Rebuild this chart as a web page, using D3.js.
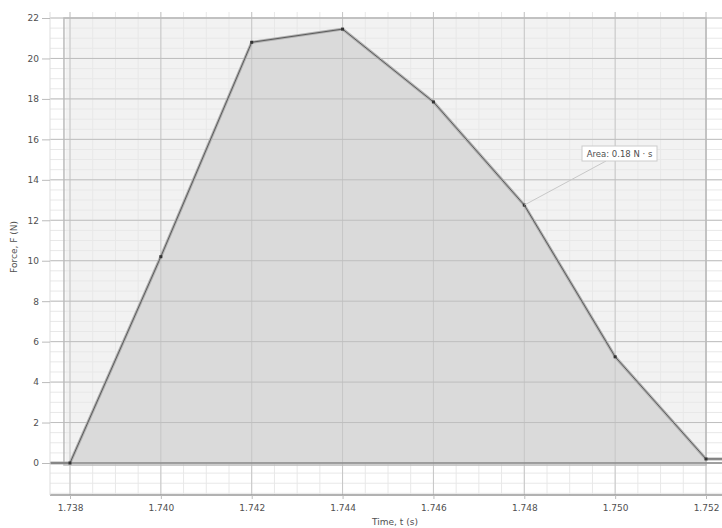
<!DOCTYPE html>
<html>
<head>
<meta charset="utf-8">
<script src="https://cdn.jsdelivr.net/npm/d3@7"></script>
<style>
  body { margin: 0; background: #fff; }
  svg text { font-family: "DejaVu Sans", sans-serif; fill: #505050; }
</style>
</head>
<body>
<svg id="chart" width="722" height="528"></svg>
<script>
// force vs time samples (s, N)
const times = [1.736, 1.738, 1.740, 1.742, 1.744, 1.746, 1.748, 1.750, 1.752, 1.754];
const forces = [0, 0, 10.2, 20.8, 21.45, 17.85, 12.75, 5.25, 0.2, 0.2];
const xTicks = [1.738, 1.740, 1.742, 1.744, 1.746, 1.748, 1.750, 1.752];
const yTicks = [0, 2, 4, 6, 8, 10, 12, 14, 16, 18, 20, 22];
const selStart = 1.7379, selEnd = 1.752, selTop = 22;
const areaLabel = "Area: 0.18 N · s";

const svg = d3.select("#chart");
const pl = 50, pr = 722, pt = 12, pb = 495;

const x = d3.scaleLinear().domain([1.738, 1.752]).range([70, 706]);
const y = d3.scaleLinear().domain([0, 22]).range([463, 18]);

svg.append("clipPath").attr("id", "clip")
  .append("rect").attr("x", pl).attr("y", pt)
  .attr("width", pr - pl).attr("height", pb - pt);

const plot = svg.append("g").attr("clip-path", "url(#clip)");

// selection background
plot.append("rect")
  .attr("x", x(selStart)).attr("y", y(selTop))
  .attr("width", x(selEnd) - x(selStart)).attr("height", y(0) - y(selTop))
  .attr("fill", "#f2f2f2");

// minor grid
const xMinor = d3.range(1.7375, 1.7526, 0.0005);
const yMinor = d3.range(-1.5, 22.6, 0.5);
plot.selectAll(".xminor").data(xMinor).join("line")
  .attr("x1", d => x(d)).attr("x2", d => x(d))
  .attr("y1", pt).attr("y2", pb)
  .attr("stroke", "#e8e8e8").attr("stroke-width", 1);
plot.selectAll(".yminor").data(yMinor).join("line")
  .attr("x1", pl).attr("x2", pr)
  .attr("y1", d => y(d)).attr("y2", d => y(d))
  .attr("stroke", "#e8e8e8").attr("stroke-width", 1);

// area under the curve (selection only)
const sel = times.map((t, i) => [t, forces[i]]).filter(d => d[0] >= 1.738 && d[0] <= 1.752);
plot.append("path")
  .datum(sel)
  .attr("fill", "#dadada")
  .attr("d", d3.area().x(d => x(d[0])).y0(y(0)).y1(d => y(d[1])));

// major grid
plot.selectAll(".xmajor").data(xTicks).join("line")
  .attr("x1", d => x(d)).attr("x2", d => x(d))
  .attr("y1", pt).attr("y2", pb)
  .attr("stroke", "#c6c6c6").attr("stroke-width", 1);
plot.selectAll(".ymajor").data(yTicks).join("line")
  .attr("x1", pl).attr("x2", pr)
  .attr("y1", d => y(d)).attr("y2", d => y(d))
  .attr("stroke", "#bebebe").attr("stroke-width", 1);

// selection border
plot.append("rect")
  .attr("x", x(selStart) - 1.5).attr("y", y(selTop))
  .attr("width", x(selEnd) - x(selStart) + 1.5).attr("height", y(0) - y(selTop) + 2)
  .attr("fill", "none").attr("stroke", "#bbb").attr("stroke-width", 1.5);

// zero line
plot.append("line")
  .attr("x1", pl).attr("x2", pr)
  .attr("y1", y(0)).attr("y2", y(0))
  .attr("stroke", "#8c8c8c").attr("stroke-width", 1.5);

// data line with halo
const line = d3.line().x((d, i) => x(times[i])).y(d => y(d));
plot.append("path").datum(forces)
  .attr("fill", "none").attr("stroke", "#b0b0b0").attr("stroke-width", 3)
  .attr("d", line);
plot.append("path").datum(forces)
  .attr("fill", "none").attr("stroke", "#5c5c5c").attr("stroke-width", 1)
  .attr("d", line);
plot.selectAll(".pt").data(sel).join("rect")
  .attr("x", d => x(d[0]) - 1.5).attr("y", d => y(d[1]) - 1.5)
  .attr("width", 3).attr("height", 3).attr("fill", "#333");

// axes
const xAxis = svg.append("g").attr("transform", `translate(0,${pb})`)
  .call(d3.axisBottom(x).tickValues(xTicks).tickFormat(d3.format(".3f")).tickSize(4).tickPadding(6));
xAxis.select(".domain").attr("d", `M${pl},0H${pr}`).attr("stroke", "#999").attr("stroke-width", 1.5);
xAxis.selectAll(".tick line").attr("stroke", "#bbb");
xAxis.selectAll("text").attr("font-size", 9);

const yAxis = svg.append("g").attr("transform", `translate(${pl},0)`)
  .call(d3.axisLeft(y).tickValues(yTicks).tickSize(8).tickPadding(3));
yAxis.select(".domain").attr("d", `M0,${pt}V${pb}`).attr("stroke", "#ddd");
yAxis.selectAll(".tick line").attr("stroke", "#bbb");
yAxis.selectAll("text").attr("font-size", 9);

svg.append("text").attr("x", 395).attr("y", 525)
  .attr("text-anchor", "middle").attr("font-size", 9).text("Time, t (s)");
svg.append("text").attr("transform", "translate(17,247) rotate(-90)")
  .attr("text-anchor", "middle").attr("font-size", 9).text("Force, F (N)");

// area annotation
const anchor = [x(1.748), y(12.75)];
svg.append("line")
  .attr("x1", anchor[0]).attr("y1", anchor[1])
  .attr("x2", 606).attr("y2", 161)
  .attr("stroke", "#c8c8c8").attr("stroke-width", 1);
svg.append("rect").attr("x", 582).attr("y", 146).attr("width", 75).attr("height", 15)
  .attr("fill", "#fff").attr("stroke", "#ccc");
svg.append("text").attr("x", 619.5).attr("y", 157)
  .attr("text-anchor", "middle").attr("font-size", 8.5).text(areaLabel);
</script>
</body>
</html>
